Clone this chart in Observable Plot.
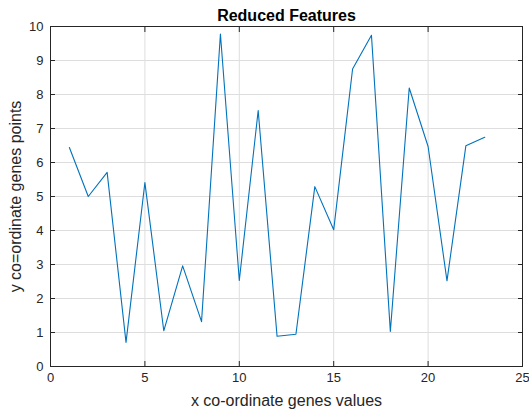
<!DOCTYPE html>
<html><head><meta charset="utf-8">
<script src="https://cdn.jsdelivr.net/npm/d3@7"></script>
<script src="https://cdn.jsdelivr.net/npm/@observablehq/plot@0.6"></script>
<style>body{margin:0;background:#fff}</style>
</head><body><div id="chart"></div>
<script>
const xValues = [1, 2, 3, 4, 5, 6, 7, 8, 9, 10, 11, 12, 13, 14, 15, 16, 17, 18, 19, 20, 21, 22, 23];
const yValues = [6.44, 5.0, 5.71, 0.71, 5.41, 1.05, 2.96, 1.32, 9.78, 2.53, 7.53, 0.89, 0.95, 5.29, 4.02, 8.75, 9.74, 1.03, 8.19, 6.47, 2.52, 6.49, 6.74];
const xTicks = [0, 5, 10, 15, 20, 25];
const yTicks = [0, 1, 2, 3, 4, 5, 6, 7, 8, 9, 10];
const title = "Reduced Features";
const xLabel = "x co-ordinate genes values";
const yLabel = "y co=ordinate genes points";

const data = xValues.map((x, i) => ({x, y: yValues[i]}));
const ink = "#262626";
const chart = Plot.plot({
  width: 529, height: 410,
  marginLeft: 50, marginRight: 7, marginTop: 26, marginBottom: 44,
  style: {fontFamily: '"Liberation Sans", Arial, sans-serif', fontSize: "13px", color: ink, background: "#fff"},
  x: {domain: [0, 25], label: null},
  y: {domain: [0, 10], label: null},
  marks: [
    Plot.gridX(xTicks, {stroke: "#dedede", strokeOpacity: 1}),
    Plot.gridY(yTicks, {stroke: "#dedede", strokeOpacity: 1}),
    Plot.line(data, {x: "x", y: "y", stroke: "#0072BD", strokeWidth: 1.1}),
    Plot.frame({stroke: ink}),
    Plot.axisX(xTicks, {anchor: "bottom", tickSize: -5, tickPadding: 11, stroke: ink, fill: ink, label: null}),
    Plot.axisX({anchor: "bottom", ticks: [], tickSize: 0, label: xLabel, labelAnchor: "center", labelArrow: "none", labelOffset: 39, fontSize: 16, fill: ink}),
    Plot.axisX(xTicks, {anchor: "top", tickSize: -5, tickFormat: () => "", stroke: ink, label: null}),
    Plot.axisY(yTicks, {anchor: "left", tickSize: -5, tickPadding: 12, stroke: ink, fill: ink, label: null}),
    Plot.axisY({anchor: "left", ticks: [], tickSize: 0, label: yLabel, labelAnchor: "center", labelArrow: "none", labelOffset: 41, fontSize: 16, fill: ink}),
    Plot.axisY(yTicks, {anchor: "right", tickSize: -5, tickFormat: () => "", stroke: ink, label: null}),
    Plot.text([title], {text: d => d, frameAnchor: "top", lineAnchor: "bottom", dy: -6, fontWeight: "bold", fontSize: 16, fill: "#000"})
  ]
});
document.getElementById("chart").append(chart);
</script>
</body></html>
